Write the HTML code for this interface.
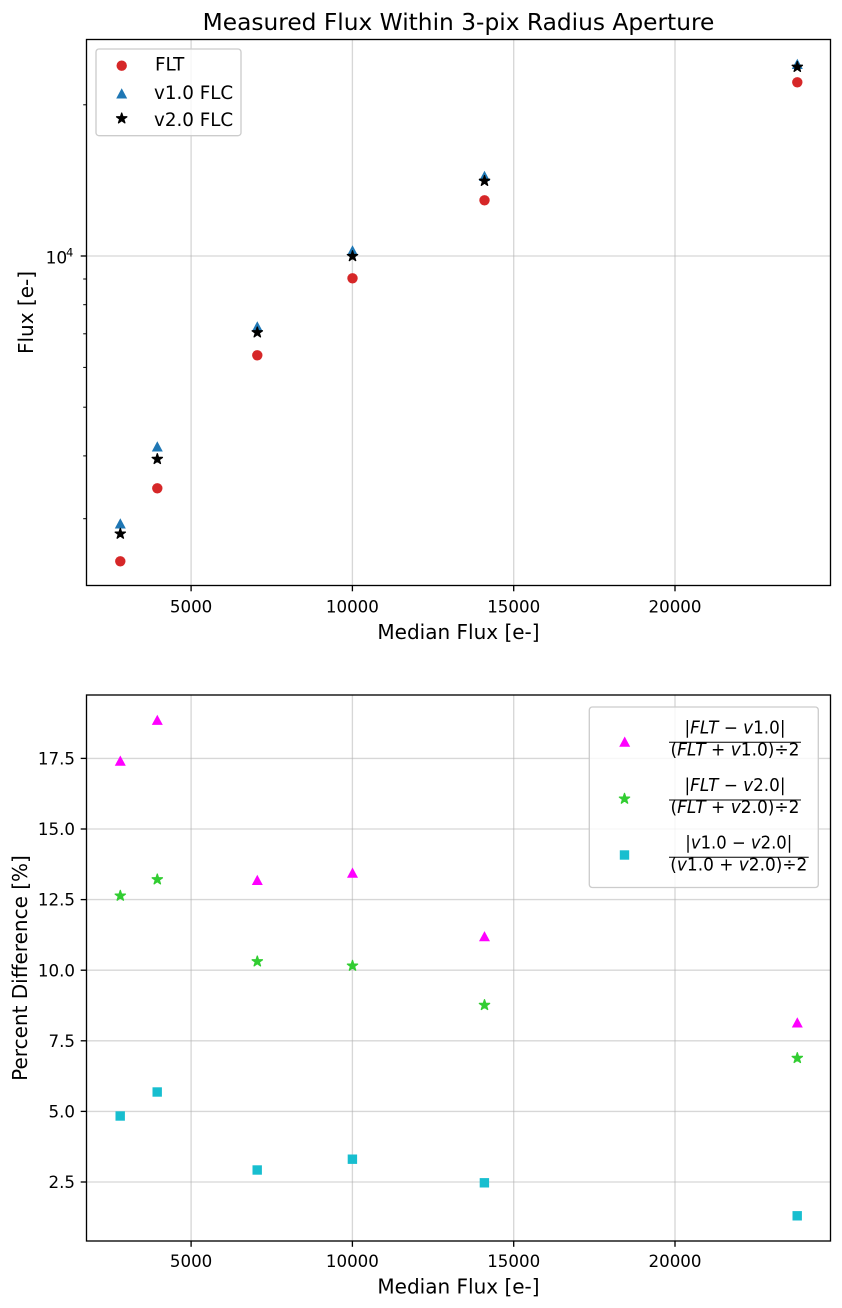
<!DOCTYPE html>
<html><head><meta charset="utf-8"><style>
html,body{margin:0;padding:0;background:#fff;}
svg{display:block;}
text{font-family:"DejaVu Sans","Liberation Sans",sans-serif;fill:#000;}
</style></head><body>
<svg width="842" height="1308" viewBox="0 0 842 1308" xmlns="http://www.w3.org/2000/svg">
<defs>
<path id="star" stroke-width="1.3" stroke-linejoin="round" d="M0,-5.4 L1.212,-1.668 L5.136,-1.668 L1.962,0.637 L3.174,4.369 L0,2.063 L-3.174,4.369 L-1.962,0.637 L-5.136,-1.668 L-1.212,-1.668 Z"/>
<path id="tri" d="M0,-5.2 L5.5,5 L-5.5,5 Z"/>
</defs>
<rect width="842" height="1308" fill="#fff"/>

<!-- ============ TOP PLOT ============ -->
<text x="458.5" y="30" font-size="23.3" text-anchor="middle">Measured Flux Within 3-pix Radius Aperture</text>
<g stroke="#b0b0b0" stroke-opacity="0.5" stroke-width="1.33">
<line x1="191.1" y1="39.5" x2="191.1" y2="585.5"/>
<line x1="352.4" y1="39.5" x2="352.4" y2="585.5"/>
<line x1="513.7" y1="39.5" x2="513.7" y2="585.5"/>
<line x1="675" y1="39.5" x2="675" y2="585.5"/>
<line x1="86.5" y1="256" x2="830.5" y2="256"/>
</g>
<!-- data -->
<g fill="#d62728">
<circle cx="120.3" cy="561.3" r="5.2"/>
<circle cx="157.3" cy="488.3" r="5.2"/>
<circle cx="257.3" cy="355.3" r="5.2"/>
<circle cx="352.5" cy="278.3" r="5.2"/>
<circle cx="484.5" cy="200.3" r="5.2"/>
<circle cx="797.3" cy="82.3" r="5.2"/>
</g>
<g fill="#1f77b4">
<use href="#tri" x="120.3" y="523.5"/>
<use href="#tri" x="157.3" y="446.5"/>
<use href="#tri" x="257.3" y="326.5"/>
<use href="#tri" x="352.5" y="250.5"/>
<use href="#tri" x="484.5" y="176"/>
<use href="#tri" x="797.3" y="64"/>
</g>
<g fill="#000" stroke="#000">
<use href="#star" x="120.3" y="533.8"/>
<use href="#star" x="157.3" y="459.1"/>
<use href="#star" x="257.3" y="332.5"/>
<use href="#star" x="352.5" y="256.2"/>
<use href="#star" x="484.5" y="181"/>
<use href="#star" x="797.3" y="67"/>
</g>
<!-- spines -->
<rect x="86.5" y="39.5" width="744" height="546" fill="none" stroke="#000" stroke-width="1.33"/>
<!-- x ticks -->
<g stroke="#000" stroke-width="1.33">
<line x1="191.1" y1="585.5" x2="191.1" y2="591.3"/>
<line x1="352.4" y1="585.5" x2="352.4" y2="591.3"/>
<line x1="513.7" y1="585.5" x2="513.7" y2="591.3"/>
<line x1="675" y1="585.5" x2="675" y2="591.3"/>
<line x1="80.7" y1="256" x2="86.5" y2="256"/>
</g>
<g stroke="#000" stroke-width="1">
<line x1="83.2" y1="104.8" x2="86.5" y2="104.8"/>
<line x1="83.2" y1="279" x2="86.5" y2="279"/>
<line x1="83.2" y1="304.7" x2="86.5" y2="304.7"/>
<line x1="83.2" y1="333.8" x2="86.5" y2="333.8"/>
<line x1="83.2" y1="367.4" x2="86.5" y2="367.4"/>
<line x1="83.2" y1="407.2" x2="86.5" y2="407.2"/>
<line x1="83.2" y1="455.9" x2="86.5" y2="455.9"/>
<line x1="83.2" y1="518.7" x2="86.5" y2="518.7"/>
</g>
<g font-size="16.67" text-anchor="middle">
<text x="191.1" y="612.3">5000</text>
<text x="352.4" y="612.3">10000</text>
<text x="513.7" y="612.3">15000</text>
<text x="675" y="612.3">20000</text>
</g>
<text x="45.6" y="263.3" font-size="17">10</text>
<text x="66" y="256.7" font-size="11.5">4</text>
<text x="458.5" y="639" font-size="20" text-anchor="middle">Median Flux [e-]</text>
<text transform="translate(33,312.5) rotate(-90)" font-size="20" text-anchor="middle">Flux [e-]</text>
<!-- legend -->
<rect x="96" y="49" width="145" height="86.7" rx="3" fill="#fff" fill-opacity="0.8" stroke="#cccccc" stroke-width="1.33"/>
<circle cx="121.7" cy="65.7" r="5.2" fill="#d62728"/>
<use href="#tri" x="121.7" y="93.5" fill="#1f77b4"/>
<use href="#star" x="121.7" y="118.5" fill="#000" stroke="#000"/>
<g font-size="18.3">
<text x="155" y="70.7">FLT</text>
<text x="154" y="99">v1.0 FLC</text>
<text x="154" y="126">v2.0 FLC</text>
</g>

<!-- ============ BOTTOM PLOT ============ -->
<g stroke="#b0b0b0" stroke-opacity="0.5" stroke-width="1.33">
<line x1="191.1" y1="695" x2="191.1" y2="1241"/>
<line x1="352.4" y1="695" x2="352.4" y2="1241"/>
<line x1="513.7" y1="695" x2="513.7" y2="1241"/>
<line x1="675" y1="695" x2="675" y2="1241"/>
<line x1="86.5" y1="758.4" x2="830.5" y2="758.4"/>
<line x1="86.5" y1="829" x2="830.5" y2="829"/>
<line x1="86.5" y1="899.6" x2="830.5" y2="899.6"/>
<line x1="86.5" y1="970.2" x2="830.5" y2="970.2"/>
<line x1="86.5" y1="1040.8" x2="830.5" y2="1040.8"/>
<line x1="86.5" y1="1111.4" x2="830.5" y2="1111.4"/>
<line x1="86.5" y1="1182" x2="830.5" y2="1182"/>
</g>
<g fill="#ff00ff">
<use href="#tri" x="120.3" y="760.7"/>
<use href="#tri" x="157.3" y="719.9"/>
<use href="#tri" x="257.3" y="880"/>
<use href="#tri" x="352.5" y="872.7"/>
<use href="#tri" x="484.5" y="936.3"/>
<use href="#tri" x="797.3" y="1022.5"/>
</g>
<g fill="#32cd32" stroke="#32cd32">
<use href="#star" x="120.3" y="895.8"/>
<use href="#star" x="157.3" y="879.5"/>
<use href="#star" x="257.3" y="961.5"/>
<use href="#star" x="352.5" y="965.8"/>
<use href="#star" x="484.5" y="1005.1"/>
<use href="#star" x="797.3" y="1058.1"/>
</g>
<g fill="#17becf">
<rect x="115.5" y="1111.3" width="9.4" height="9.4"/>
<rect x="152.5" y="1087.3" width="9.4" height="9.4"/>
<rect x="252.5" y="1165.3" width="9.4" height="9.4"/>
<rect x="347.7" y="1154.5" width="9.4" height="9.4"/>
<rect x="479.7" y="1178.1" width="9.4" height="9.4"/>
<rect x="792.5" y="1211.1" width="9.4" height="9.4"/>
</g>
<rect x="86.5" y="695" width="744" height="546" fill="none" stroke="#000" stroke-width="1.33"/>
<g stroke="#000" stroke-width="1.33">
<line x1="191.1" y1="1241" x2="191.1" y2="1246.8"/>
<line x1="352.4" y1="1241" x2="352.4" y2="1246.8"/>
<line x1="513.7" y1="1241" x2="513.7" y2="1246.8"/>
<line x1="675" y1="1241" x2="675" y2="1246.8"/>
<line x1="80.7" y1="758.4" x2="86.5" y2="758.4"/>
<line x1="80.7" y1="829" x2="86.5" y2="829"/>
<line x1="80.7" y1="899.6" x2="86.5" y2="899.6"/>
<line x1="80.7" y1="970.2" x2="86.5" y2="970.2"/>
<line x1="80.7" y1="1040.8" x2="86.5" y2="1040.8"/>
<line x1="80.7" y1="1111.4" x2="86.5" y2="1111.4"/>
<line x1="80.7" y1="1182" x2="86.5" y2="1182"/>
</g>
<g font-size="16.67" text-anchor="middle">
<text x="191.1" y="1267">5000</text>
<text x="352.4" y="1267">10000</text>
<text x="513.7" y="1267">15000</text>
<text x="675" y="1267">20000</text>
</g>
<g font-size="16.67" text-anchor="end">
<text x="75" y="764.5">17.5</text>
<text x="75" y="835.1">15.0</text>
<text x="75" y="905.7">12.5</text>
<text x="75" y="976.3">10.0</text>
<text x="75" y="1046.9">7.5</text>
<text x="75" y="1117.5">5.0</text>
<text x="75" y="1188.1">2.5</text>
</g>
<text x="458.5" y="1293.5" font-size="20" text-anchor="middle">Median Flux [e-]</text>
<text transform="translate(27,968) rotate(-90)" font-size="20" text-anchor="middle">Percent Difference [%]</text>
<!-- legend -->
<rect x="589.3" y="707" width="229" height="180.5" rx="3" fill="#fff" fill-opacity="0.8" stroke="#cccccc" stroke-width="1.33"/>
<use href="#tri" x="624.7" y="741.7" fill="#ff00ff"/>
<use href="#star" x="624.5" y="798.8" fill="#32cd32" stroke="#32cd32"/>
<rect x="619.8" y="850.3" width="9.4" height="9.4" fill="#17becf"/>
<g font-size="17.5" stroke="none">
<text x="735" y="733.3" text-anchor="middle" textLength="101" lengthAdjust="spacingAndGlyphs">|<tspan font-style="italic">FLT</tspan> − <tspan font-style="italic">v</tspan>1.0|</text>
<line x1="669" y1="742.3" x2="801" y2="742.3" stroke="#000" stroke-width="1"/>
<text x="735" y="755.5" text-anchor="middle" textLength="129" lengthAdjust="spacingAndGlyphs">(<tspan font-style="italic">FLT</tspan> + <tspan font-style="italic">v</tspan>1.0)÷2</text>

<text x="735" y="791" text-anchor="middle" textLength="101" lengthAdjust="spacingAndGlyphs">|<tspan font-style="italic">FLT</tspan> − <tspan font-style="italic">v</tspan>2.0|</text>
<line x1="669" y1="800" x2="801" y2="800" stroke="#000" stroke-width="1"/>
<text x="735" y="813.2" text-anchor="middle" textLength="129" lengthAdjust="spacingAndGlyphs">(<tspan font-style="italic">FLT</tspan> + <tspan font-style="italic">v</tspan>2.0)÷2</text>

<text x="738.8" y="848.3" text-anchor="middle" textLength="107" lengthAdjust="spacingAndGlyphs">|<tspan font-style="italic">v</tspan>1.0 − <tspan font-style="italic">v</tspan>2.0|</text>
<line x1="669" y1="857.3" x2="808.7" y2="857.3" stroke="#000" stroke-width="1"/>
<text x="738.8" y="870.5" text-anchor="middle" textLength="137" lengthAdjust="spacingAndGlyphs">(<tspan font-style="italic">v</tspan>1.0 + <tspan font-style="italic">v</tspan>2.0)÷2</text>
</g>
</svg>
</body></html>
